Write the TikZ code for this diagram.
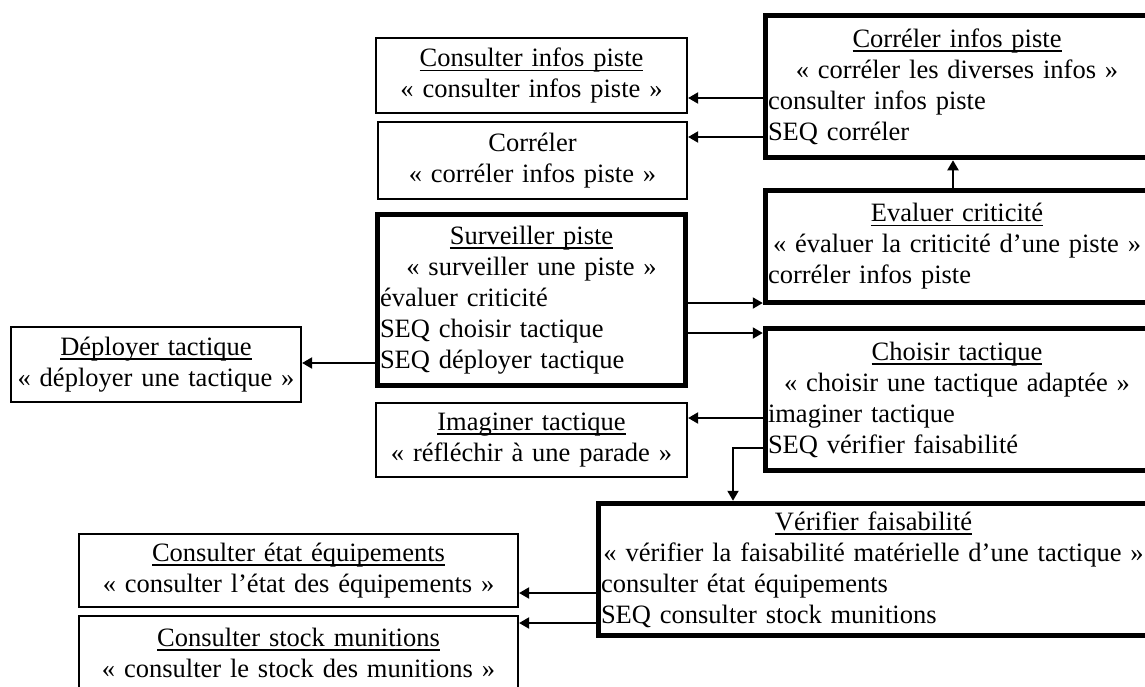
\documentclass[tikz,border=0pt]{standalone}
\usepackage{fontspec}
\setmainfont{Liberation Serif}
\usetikzlibrary{arrows.meta}
\newcommand{\myul}[1]{\setbox0\hbox{#1}\rlap{\vrule height -3pt depth 4.6pt width \wd0}\box0}
\tikzset{
  box/.style={draw, rectangle, inner xsep=2.5pt, inner ysep=0pt,
    font=\fontsize{26.5}{31}\selectfont},
  thinbox/.style={box, line width=2.2pt},
  thickbox/.style={box, line width=5.5pt},
  arr/.style={line width=2pt, -{Triangle[length=10pt,width=11pt]}},
}
\begin{document}
\begin{tikzpicture}[x=1pt,y=-1pt]
\useasboundingbox (0,0) rectangle (1145,686);
\clip (0,0) rectangle (1145,686);
% boxes
\node[thinbox, text width=306pt, minimum height=75pt] (cip) at (531.5,75.5)
  {\centering\myul{Consulter infos piste}\\« consulter infos piste »\par};
\node[thinbox, text width=304pt, minimum height=77pt] (cor) at (532.5,160.5)
  {\centering Corréler\\« corréler infos piste »\par};
\node[thickbox, text width=378pt, minimum height=142pt] (corinf) at (957,86.5)
  {{\centering\myul{Corréler infos piste}\\« corréler les diverses infos »\par}\raggedright consulter infos piste\\SEQ corréler};
\node[thickbox, text width=303pt, minimum height=171pt] (surv) at (531.5,300)
  {{\centering\myul{Surveiller piste}\\« surveiller une piste »\par}\raggedright évaluer criticité\\SEQ choisir tactique\\SEQ déployer tactique};
\node[thinbox, text width=285pt, minimum height=75pt] (deploy) at (156,364.5)
  {\centering\myul{Déployer tactique}\\« déployer une tactique »\par};
\node[thinbox, text width=306pt, minimum height=74pt] (imag) at (531.5,440)
  {\centering\myul{Imaginer tactique}\\« réfléchir à une parade »\par};
\node[thickbox, text width=378pt, minimum height=112pt] (eval) at (957,246.5)
  {{\centering\myul{Evaluer criticité}\\« évaluer la criticité d’une piste »\par}\raggedright corréler infos piste};
\node[thickbox, text width=378pt, minimum height=142pt] (choisir) at (957,399.5)
  {{\centering\myul{Choisir tactique}\\« choisir une tactique adaptée »\par}\raggedright imaginer tactique\\SEQ vérifier faisabilité};
\node[thickbox, text width=545pt, minimum height=132pt] (verif) at (873.5,569.5)
  {{\centering\myul{Vérifier faisabilité}\\« vérifier la faisabilité matérielle d’une tactique »\par}\raggedright consulter état équipements\\SEQ consulter stock munitions};
\node[thinbox, text width=434pt, minimum height=73pt] (etat) at (298.5,570.5)
  {\centering\myul{Consulter état équipements}\\« consulter l’état des équipements »\par};
\node[thinbox, text width=434pt, minimum height=73pt] (stock) at (298.5,652.5)
  {\centering\myul{Consulter stock munitions}\\« consulter le stock des munitions »\par};
% helper coordinates
\coordinate (y98) at (0,98);
\coordinate (y137) at (0,137);
\coordinate (x953) at (953,0);
\coordinate (y303) at (0,303);
\coordinate (y333) at (0,333);
\coordinate (y363) at (0,363);
\coordinate (y418) at (0,418);
\coordinate (y448) at (0,448);
\coordinate (x733) at (733,0);
\coordinate (y593) at (0,593);
\coordinate (y623) at (0,623);
% connectors
\draw[arr] (corinf.west |- y98) -- (cip.east |- y98);
\draw[arr] (corinf.west |- y137) -- (cor.east |- y137);
\draw[arr] (eval.north -| x953) -- (corinf.south -| x953);
\draw[arr] (surv.east |- y303) -- (eval.west |- y303);
\draw[arr] (surv.east |- y333) -- (choisir.west |- y333);
\draw[arr] (surv.west |- y363) -- (deploy.east |- y363);
\draw[arr] (choisir.west |- y418) -- (imag.east |- y418);
\draw[arr] (choisir.west |- y448) -| (verif.north -| x733);
\draw[arr] (verif.west |- y593) -- (etat.east |- y593);
\draw[arr] (verif.west |- y623) -- (stock.east |- y623);
\end{tikzpicture}
\end{document}
